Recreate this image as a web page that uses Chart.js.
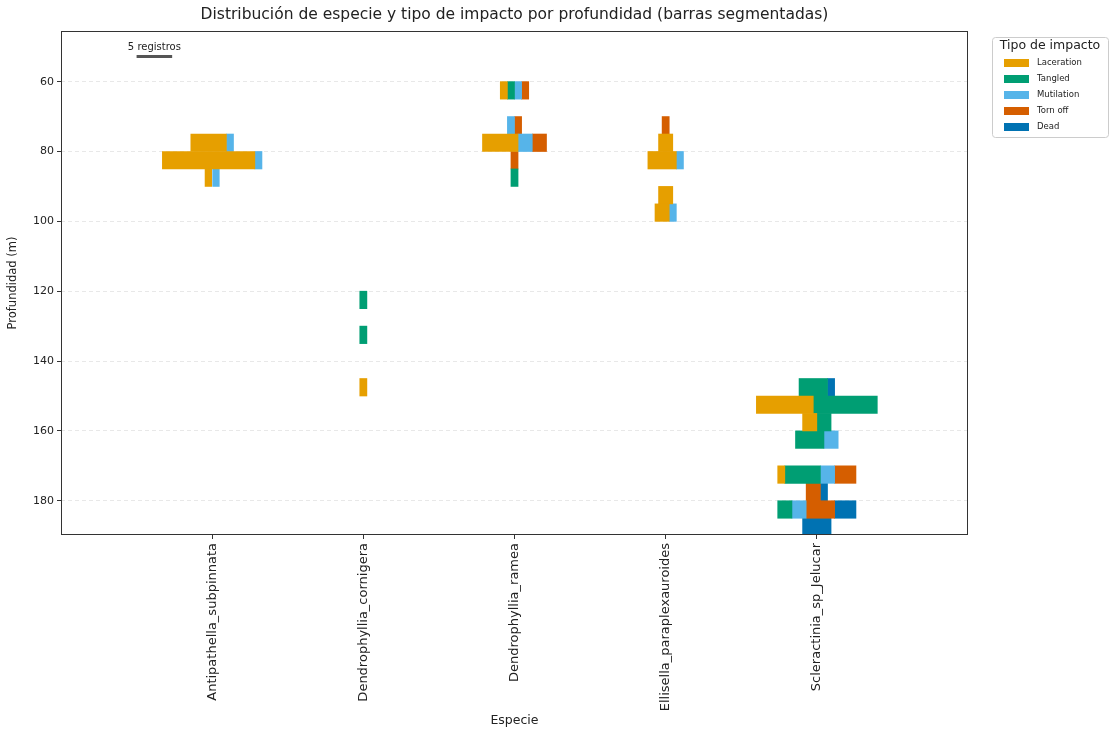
<!DOCTYPE html>
<html>
<head>
<meta charset="utf-8">
<script src="https://cdn.jsdelivr.net/npm/chart.js@4.4.1/dist/chart.umd.min.js"></script>
<style>
  body { margin: 0; background: #fff; }
  canvas { display: block; }
</style>
</head>
<body>
<canvas id="chart" width="1115" height="730"></canvas>
<script>
//species on the x axis
const species = [
  "Antipathella_subpinnata",
  "Dendrophyllia_cornigera",
  "Dendrophyllia_ramea",
  "Ellisella_paraplexauroides",
  "Scleractinia_sp_Jelucar",
];
const impacts = ["Laceration", "Tangled", "Mutilation", "Torn off", "Dead"];
const impactColors = ["#E69F00", "#009E73", "#56B4E9", "#D55E00", "#0072B2"];
const depthTicks = [60, 80, 100, 120, 140, 160, 180];
const chartTitle = "Distribución de especie y tipo de impacto por profundidad (barras segmentadas)";

//one row = one 5 m depth bin of one species
const rowSpecies = [0, 0, 0, 1, 1, 1, 2, 2, 2, 2, 2, 3, 3, 3, 3, 3, 4, 4, 4, 4, 4, 4, 4, 4];
const rowDepth = [
  77.5, 82.5, 87.5,
  122.5, 132.5, 147.5,
  62.5, 72.5, 77.5, 82.5, 87.5,
  72.5, 77.5, 82.5, 92.5, 97.5,
  147.5, 152.5, 157.5, 162.5, 172.5, 177.5, 182.5, 187.5,
];
//number of records per impact type in each row
const laceration = [5, 13, 1, 0, 0, 1, 1, 0, 5, 0, 0, 0, 2, 4, 2, 2, 0, 8, 2, 0, 1, 0, 0, 0];
const tangled    = [0, 0, 0, 1, 1, 0, 1, 0, 0, 0, 1, 0, 0, 0, 0, 0, 4, 9, 2, 4, 5, 0, 2, 0];
const mutilation = [1, 1, 1, 0, 0, 0, 1, 1, 2, 0, 0, 0, 0, 1, 0, 1, 0, 0, 0, 2, 2, 0, 2, 0];
const tornOff    = [0, 0, 0, 0, 0, 0, 1, 1, 2, 1, 0, 1, 0, 0, 0, 0, 0, 0, 0, 0, 3, 2, 4, 0];
const dead       = [0, 0, 0, 0, 0, 0, 0, 0, 0, 0, 0, 0, 0, 0, 0, 0, 1, 0, 0, 0, 0, 1, 3, 4];
const counts = [laceration, tangled, mutilation, tornOff, dead];
const scaleRecords = 5;

//widest row takes 0.8 of a category
const totals = rowDepth.map((_, i) => counts.reduce((s, c) => s + c[i], 0));
const unit = 0.8 / Math.max(...totals);

const datasets = impacts.map((name, k) => {
  const data = [];
  rowDepth.forEach((depth, i) => {
    if (!counts[k][i]) return;
    let before = 0;
    for (let j = 0; j < k; j++) before += counts[j][i];
    const start = rowSpecies[i] - (totals[i] * unit) / 2 + before * unit;
    data.push({ y: depth, x: [start, start + counts[k][i] * unit] });
  });
  return {
    label: name,
    data: data,
    backgroundColor: impactColors[k],
    borderWidth: 0,
    barThickness: 17.5,
  };
});

const FONT = "'DejaVu Sans', sans-serif";

//title over the plot, frame, record scale bar and legend box
const extras = {
  id: "extras",
  afterDraw(chart) {
    const ctx = chart.ctx;
    const a = chart.chartArea;
    const xs = chart.scales.x;
    const ys = chart.scales.y;
    ctx.save();
    ctx.fillStyle = "#222";
    ctx.font = "15.5px " + FONT;
    ctx.textAlign = "center";
    ctx.textBaseline = "middle";
    ctx.fillText(chartTitle, (a.left + a.right) / 2, 15);

    ctx.strokeStyle = "#333";
    ctx.lineWidth = 1;
    ctx.strokeRect(a.left + 0.5, a.top + 0.5, a.right - a.left - 1, a.bottom - a.top - 1);

    //scale bar
    const x0 = xs.getPixelForValue(-0.5);
    const x1 = xs.getPixelForValue(-0.5 + scaleRecords * unit);
    const yb = ys.getPixelForValue(52.8);
    ctx.fillStyle = "#555";
    ctx.fillRect(x0, yb - 1.5, x1 - x0, 3);
    ctx.fillStyle = "#222";
    ctx.font = "10px " + FONT;
    ctx.fillText(scaleRecords + " registros", (x0 + x1) / 2, yb - 9.5);

    //legend
    const lx = a.right + 24, ly = 37, lw = 116, lh = 100;
    ctx.fillStyle = "#fff";
    ctx.strokeStyle = "#ccc";
    ctx.beginPath();
    ctx.roundRect(lx + 0.5, ly + 0.5, lw, lh, 3);
    ctx.fill();
    ctx.stroke();
    ctx.fillStyle = "#222";
    ctx.font = "12.5px " + FONT;
    ctx.fillText("Tipo de impacto", lx + lw / 2, ly + 9);
    ctx.font = "8.5px " + FONT;
    ctx.textAlign = "left";
    impacts.forEach((name, k) => {
      const cy = ly + 26 + k * 16;
      ctx.fillStyle = impactColors[k];
      ctx.fillRect(lx + 12, cy - 4, 25, 8);
      ctx.fillStyle = "#222";
      ctx.fillText(name, lx + 45, cy);
    });
    ctx.restore();
  },
};

new Chart(document.getElementById("chart"), {
  type: "bar",
  data: { datasets: datasets },
  plugins: [extras],
  options: {
    indexAxis: "y",
    responsive: false,
    animation: false,
    grouped: false,
    layout: { padding: { left: 0, right: 147, top: 31, bottom: 0 } },
    plugins: {
      legend: { display: false },
      tooltip: { enabled: false },
      title: { display: false },
    },
    scales: {
      x: {
        type: "linear",
        min: -1,
        max: 5,
        offset: false,
        afterBuildTicks: (s) => {
          s.ticks = species.map((_, i) => ({ value: i }));
        },
        afterFit: (s) => {
          s.height = 195;
        },
        ticks: {
          autoSkip: false,
          minRotation: 90,
          maxRotation: 90,
          padding: 4,
          color: "#222",
          font: { family: FONT, size: 13 },
          callback: (v) => species[v],
        },
        grid: { drawOnChartArea: false, offset: false, tickLength: 4, tickColor: "#333" },
        border: { display: false },
        title: {
          display: true,
          text: "Especie",
          color: "#222",
          font: { family: FONT, size: 12.5 },
          padding: { top: 0, bottom: 2 },
        },
      },
      y: {
        type: "linear",
        reverse: true,
        min: 45.5,
        max: 189.8,
        offset: false,
        afterBuildTicks: (s) => {
          s.ticks = depthTicks.map((v) => ({ value: v }));
        },
        afterFit: (s) => {
          s.width = 61;
        },
        ticks: {
          padding: 3,
          color: "#222",
          font: { family: FONT, size: 11 },
        },
        grid: {
          offset: false,
          color: "rgba(0,0,0,0.09)",
          tickLength: 4,
          tickColor: "#333",
        },
        border: { display: false, dash: [4, 3] },
        title: {
          display: true,
          text: "Profundidad (m)",
          color: "#222",
          font: { family: FONT, size: 11.5 },
          padding: { top: 6, bottom: 0 },
        },
      },
    },
  },
});
</script>
</body>
</html>
